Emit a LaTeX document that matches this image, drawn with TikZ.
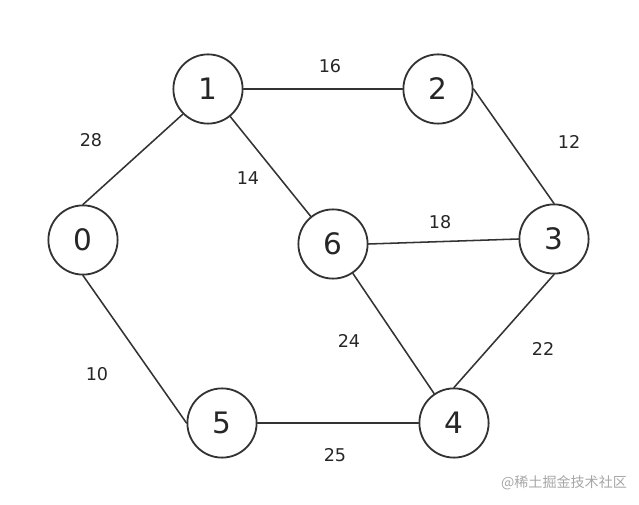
\documentclass[tikz,border=0pt]{standalone}
\usepackage{fontspec}
\setmainfont{DejaVu Sans}
\newfontfamily\cjkfont{Noto Sans CJK SC}
\begin{document}
\begin{tikzpicture}[line cap=round,line join=round,x=0.025cm,y=-0.025cm,
	vert/.style={circle,draw=black!80,line width=1.3pt,minimum size=1.73cm,inner sep=0pt,font=\fontsize{21}{21}\selectfont,text=black!85},
	edge/.style={draw=black!80,line width=1.1pt},
	wt/.style={font=\fontsize{12.5}{12.5}\selectfont,text=black!85}]
			\useasboundingbox (0,0) rectangle (639,505);
			\node[vert] (v0) at (83,240) {0};
			\node[vert] (v1) at (208,89) {1};
			\node[vert] (v2) at (438,89) {2};
			\node[vert] (v3) at (554,239) {3};
			\node[vert] (v4) at (454,423) {4};
			\node[vert] (v5) at (222,423) {5};
			\node[vert] (v6) at (333,244) {6};
			\draw[edge] (v0.north)-- (v1.south west);
			\draw[edge] (v1.east)-- (v2.west);
			\draw[edge] (v1)-- (v6);
			\draw[edge] (v2.east)-- (v3.north);
			\draw[edge] (v6.east)-- (v3.west);
			\draw[edge] (v6)-- (v4);
			\draw[edge] (v3.south)-- (v4.north);
			\draw[edge] (v0.south)-- (v5.west);
			\draw[edge] (v5.east)-- (v4.west);
			\node[wt] (w01) at (91,140) {28};
			\node[wt] (w12) at (330,66) {16};
			\node[wt] (w16) at (248,178) {14};
			\node[wt] (w23) at (569,142) {12};
			\node[wt] (w63) at (440,222) {18};
			\node[wt] (w64) at (349,341) {24};
			\node[wt] (w34) at (543,349) {22};
			\node[wt] (w05) at (97,374) {10};
			\node[wt] (w54) at (335,455) {25};
			\node[text=black!35,font=\cjkfont\fontsize{10}{10}\selectfont] (mark) at (564,483) {@稀土掘金技术社区};
\end{tikzpicture}
\end{document}
